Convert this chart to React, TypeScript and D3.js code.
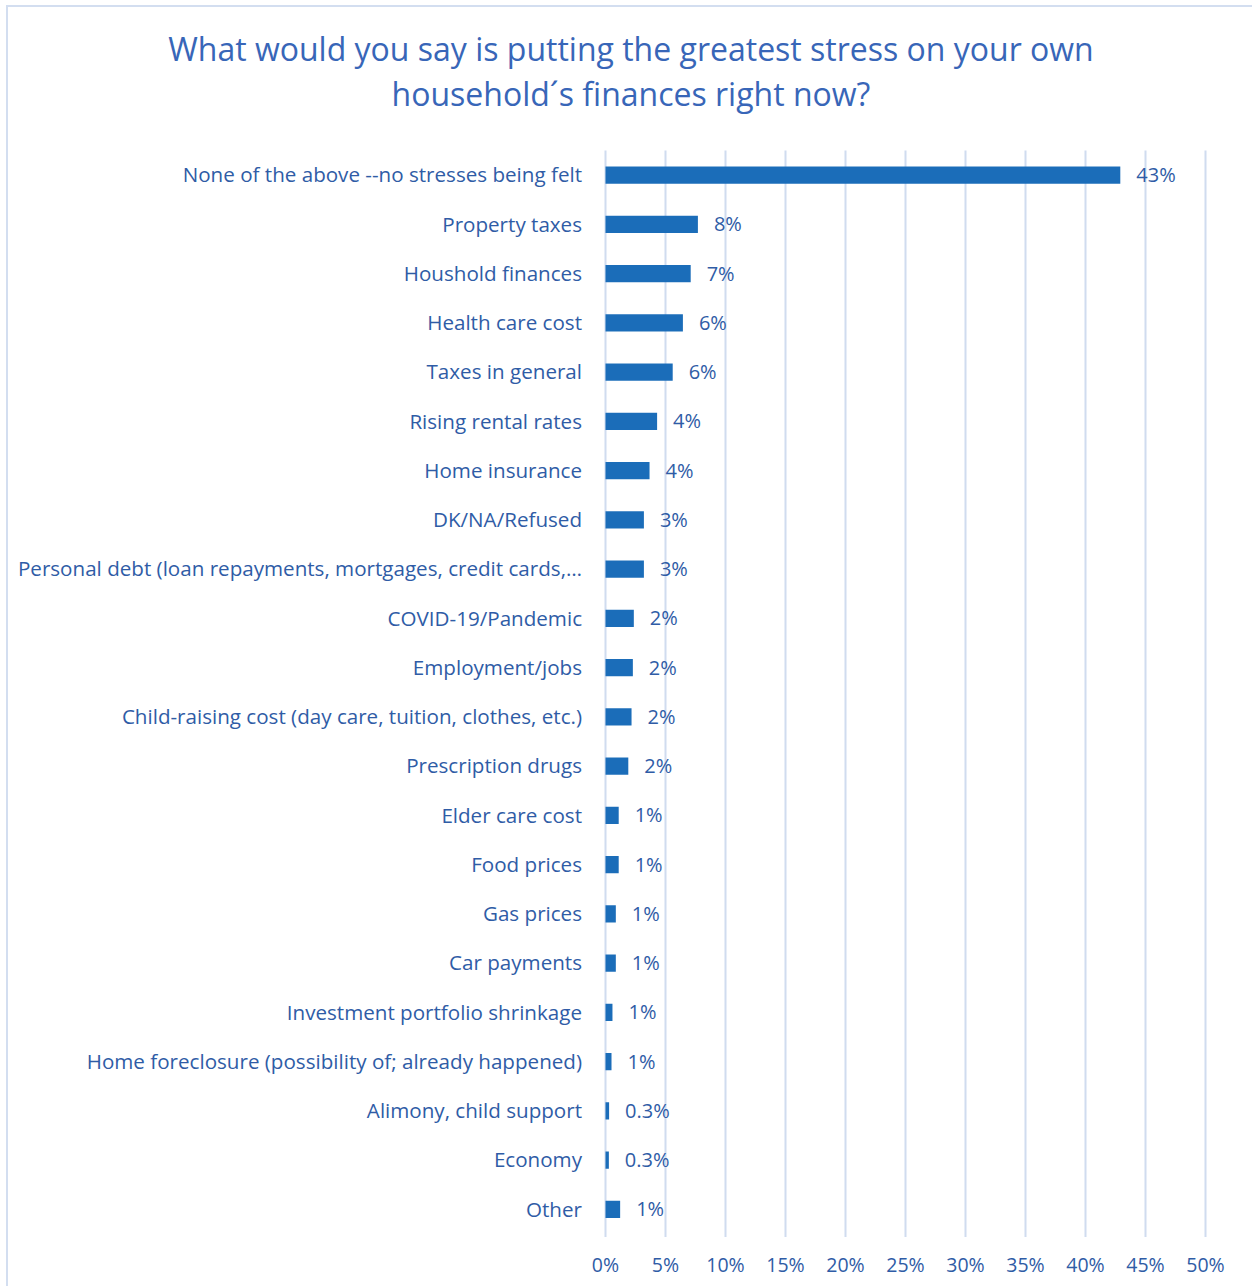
import React from "react";
import * as d3 from "d3";

const categories = [
  "None of the above --no stresses being felt",
  "Property taxes",
  "Houshold finances",
  "Health care cost",
  "Taxes in general",
  "Rising rental rates",
  "Home insurance",
  "DK/NA/Refused",
  "Personal debt (loan repayments, mortgages, credit cards,…",
  "COVID-19/Pandemic",
  "Employment/jobs",
  "Child-raising cost (day care, tuition, clothes, etc.)",
  "Prescription drugs",
  "Elder care cost",
  "Food prices",
  "Gas prices",
  "Car payments",
  "Investment portfolio shrinkage",
  "Home foreclosure (possibility of; already happened)",
  "Alimony, child support",
  "Economy",
  "Other",
];

const values = [
  42.9, 7.7, 7.1, 6.45, 5.6, 4.3, 3.67, 3.2, 3.2, 2.36, 2.28, 2.17, 1.9, 1.1,
  1.1, 0.86, 0.86, 0.58, 0.5, 0.3, 0.28, 1.22,
];

const valueLabels = [
  "43%", "8%", "7%", "6%", "6%", "4%", "4%", "3%", "3%", "2%", "2%", "2%",
  "2%", "1%", "1%", "1%", "1%", "1%", "1%", "0.3%", "0.3%", "1%",
];

const xTicks = [0, 5, 10, 15, 20, 25, 30, 35, 40, 45, 50];

const titleLines = [
  "What would you say is putting the greatest stress on your own",
  "household´s finances right now?",
];

export default function App() {
  const W = 1252;
  const H = 1286;
  const left = 605.5;
  const right = 1205.5;
  const top = 150.5;
  const bottom = 1234;
  const font = "'Open Sans', 'Noto Sans', sans-serif";
  const textColor = "#2F5CA6";
  const barColor = "#1B6DB9";
  const gridColor = "#D0DCEF";

  const x = d3.scaleLinear().domain([0, 50]).range([left, right]);
  const y = d3
    .scaleBand<string>()
    .domain(categories)
    .range([top, bottom])
    .paddingInner(0.65)
    .paddingOuter(0.325);

  return (
    <svg
      width={W}
      height={H}
      style={{ position: "absolute", left: 0, top: 0, background: "#fff" }}
      fontFamily={font}
    >
      <rect x={0} y={0} width={W} height={H} fill="#fff" />
      <line x1={6} x2={W} y1={6} y2={6} stroke="#D3DEF0" strokeWidth={2} />
      <line x1={7} x2={7} y1={5} y2={H} stroke="#D3DEF0" strokeWidth={2} />
      {titleLines.map((t, i) => (
        <text
          key={i}
          x={631}
          y={61 + i * 45}
          textAnchor="middle"
          fontSize={32}
          fill="#3866B8"
        >
          {t}
        </text>
      ))}
      {xTicks.map((t) => (
        <g key={t}>
          <line
            x1={x(t)}
            x2={x(t)}
            y1={top}
            y2={bottom + 3}
            stroke={gridColor}
            strokeWidth={2}
          />
          <text
            x={x(t)}
            y={1272}
            textAnchor="middle"
            fontSize={19.5}
            fill={textColor}
          >
            {t + "%"}
          </text>
        </g>
      ))}
      {categories.map((c, i) => {
        const by = y(c)!;
        const bh = y.bandwidth();
        const cy = by + bh / 2;
        return (
          <g key={c}>
            <rect
              x={x(0)}
              y={by}
              width={x(values[i]) - x(0)}
              height={bh}
              fill={barColor}
            />
            <text
              x={582}
              y={cy}
              dy="0.35em"
              textAnchor="end"
              fontSize={20.6}
              fill={textColor}
            >
              {c}
            </text>
            <text
              x={x(values[i]) + 16}
              y={cy}
              dy="0.35em"
              textAnchor="start"
              fontSize={20}
              fill={textColor}
            >
              {valueLabels[i]}
            </text>
          </g>
        );
      })}
    </svg>
  );
}
